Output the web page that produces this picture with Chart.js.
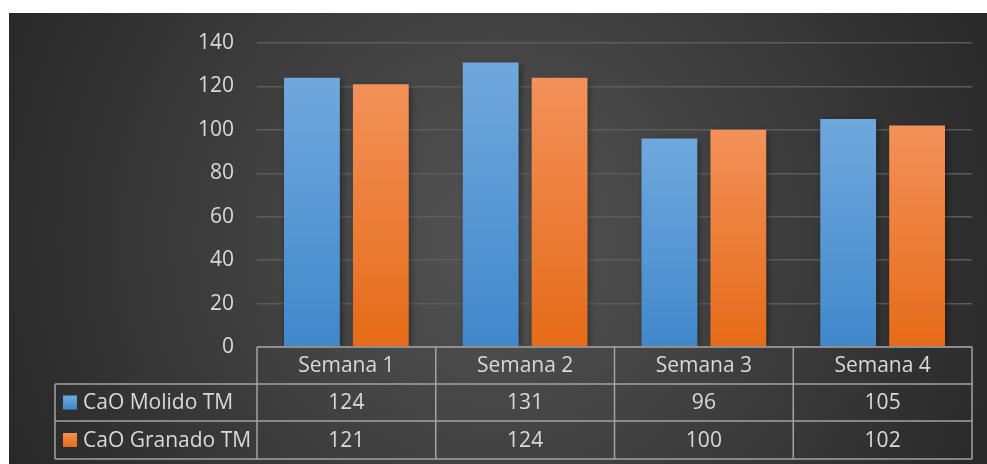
<!DOCTYPE html>
<html>
<head>
<meta charset="utf-8">
<script src="https://cdn.jsdelivr.net/npm/chart.js@4.4.1/dist/chart.umd.min.js"></script>
<style>
  html, body { margin: 0; padding: 0; background: #ffffff; }
  #wrap { position: absolute; left: 9px; top: 13px; width: 978px; height: 451px; }
  canvas { display: block; }
</style>
</head>
<body>
<div id="wrap"><canvas id="c" width="978" height="451"></canvas></div>
<script>
const categories = ["Semana 1", "Semana 2", "Semana 3", "Semana 4"];
const seriesNames = ["CaO Molido TM", "CaO Granado TM"];
const molido = [124, 131, 96, 105];
const granado = [121, 124, 100, 102];
const yTicks = [0, 20, 40, 60, 80, 100, 120, 140];

const FONT = '"Open Sans", "Noto Sans", sans-serif';
const TEXT = '#d9d9d9';
const gradStops = [
  ['#70a8dd', '#4088cb'],
  ['#f39159', '#e56b18']
];

function barGradient(idx) {
  return function (ctx) {
    const chart = ctx.chart;
    const area = chart.chartArea;
    if (!area || ctx.raw === undefined) return gradStops[idx][1];
    const y = chart.scales.y;
    const top = y.getPixelForValue(ctx.raw);
    const base = y.getPixelForValue(0);
    const g = chart.ctx.createLinearGradient(0, top, 0, base);
    g.addColorStop(0, gradStops[idx][0]);
    g.addColorStop(1, gradStops[idx][1]);
    return g;
  };
}

const bgPlugin = {
  id: 'bg',
  beforeDraw(chart) {
    const { ctx, width, height } = chart;
    ctx.save();
    const g = ctx.createRadialGradient(width * 0.5, height * 0.5, 0, width * 0.5, height * 0.5, Math.hypot(width, height) * 0.55);
    g.addColorStop(0, '#545454');
    g.addColorStop(1, '#242424');
    ctx.fillStyle = g;
    ctx.fillRect(0, 0, width, height);
    ctx.restore();
  }
};

const shadowPlugin = {
  id: 'shadow',
  beforeDatasetsDraw(chart) {
    const ctx = chart.ctx;
    ctx.save();
    ctx.shadowColor = 'rgba(0,0,0,0.45)';
    ctx.shadowBlur = 7;
    ctx.shadowOffsetX = 2;
    ctx.shadowOffsetY = 2;
  },
  afterDatasetsDraw(chart) {
    chart.ctx.restore();
  }
};

const tablePlugin = {
  id: 'datatable',
  afterDraw(chart) {
    const { ctx, chartArea } = chart;
    const left = chartArea.left, right = chartArea.right;
    const top = chartArea.bottom;
    const rowH = [37, 37, 38];
    const r1 = top + rowH[0], r2 = r1 + rowH[1], r3 = r2 + rowH[2];
    const legendLeft = 46;
    const n = categories.length;
    const cw = (right - left) / n;
    ctx.save();
    ctx.strokeStyle = '#a3a3a3';
    ctx.lineWidth = 1.5;
    ctx.beginPath();
    ctx.moveTo(left, top); ctx.lineTo(right, top);
    ctx.moveTo(legendLeft, r1); ctx.lineTo(right, r1);
    ctx.moveTo(legendLeft, r2); ctx.lineTo(right, r2);
    ctx.moveTo(legendLeft, r3); ctx.lineTo(right, r3);
    ctx.moveTo(legendLeft, r1); ctx.lineTo(legendLeft, r3);
    for (let i = 0; i <= n; i++) {
      const x = left + cw * i;
      ctx.moveTo(x, top); ctx.lineTo(x, r3);
    }
    ctx.stroke();

    ctx.fillStyle = TEXT;
    ctx.font = '21px ' + FONT;
    ctx.textAlign = 'center';
    ctx.textBaseline = 'middle';
    const rows = [molido, granado];
    for (let i = 0; i < n; i++) {
      const cx = left + cw * (i + 0.5);
      ctx.fillText(categories[i], cx, (top + r1) / 2 + 1);
      ctx.fillText(String(rows[0][i]), cx, (r1 + r2) / 2 + 1);
      ctx.fillText(String(rows[1][i]), cx, (r2 + r3) / 2 + 1);
    }
    const mids = [(r1 + r2) / 2, (r2 + r3) / 2];
    ctx.textAlign = 'left';
    for (let s = 0; s < 2; s++) {
      const g = ctx.createLinearGradient(0, mids[s] - 7, 0, mids[s] + 7);
      g.addColorStop(0, gradStops[s][0]);
      g.addColorStop(1, gradStops[s][1]);
      ctx.fillStyle = g;
      ctx.fillRect(54, mids[s] - 7, 14, 14);
      ctx.fillStyle = TEXT;
      ctx.fillText(seriesNames[s], 74, mids[s] + 1);
    }
    ctx.restore();
  }
};

new Chart(document.getElementById('c'), {
  type: 'bar',
  data: {
    labels: categories,
    datasets: [
      { label: seriesNames[0], data: molido, backgroundColor: barGradient(0), borderWidth: 0 },
      { label: seriesNames[1], data: granado, backgroundColor: barGradient(1), borderWidth: 0 }
    ]
  },
  options: {
    responsive: false,
    devicePixelRatio: 1,
    animation: false,
    events: [],
    layout: { padding: { left: 0, top: 30, right: 15, bottom: 117 } },
    datasets: { bar: { categoryPercentage: 0.771, barPercentage: 0.81 } },
    plugins: { legend: { display: false }, tooltip: { enabled: false } },
    scales: {
      x: { display: false },
      y: {
        min: 0, max: 140,
        afterBuildTicks(scale) { scale.ticks = yTicks.map(v => ({ value: v })); },
        afterFit(scale) { scale.width = 248; scale.paddingTop = 12; scale.paddingBottom = 12; },
        ticks: { color: TEXT, font: { family: FONT, size: 21 }, padding: 23 },
        grid: { color: '#5c5c5c', lineWidth: 1.5, drawTicks: false },
        border: { display: false }
      }
    }
  },
  plugins: [bgPlugin, shadowPlugin, tablePlugin]
});
</script>
</body>
</html>
